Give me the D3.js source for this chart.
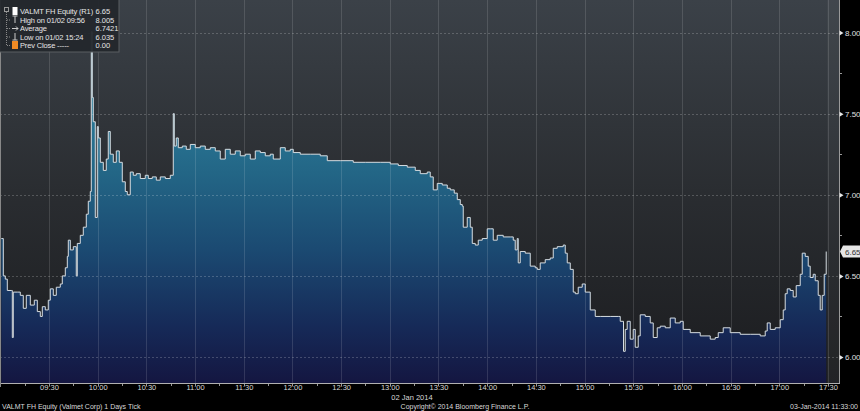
<!DOCTYPE html>
<html><head><meta charset="utf-8">
<script src="https://cdn.jsdelivr.net/npm/d3@7"></script>
<style>
html,body{margin:0;padding:0;background:#000;}
svg{display:block;}
text{font-family:"Liberation Sans",Arial,sans-serif;}
</style></head>
<body>
<svg id="chart" width="860" height="411"></svg>
<script>
// ---- data ----
const times = ["09:00:37","09:01:51","09:03:05","09:04:19","09:06:47","09:07:24","09:08:00","09:10:28","09:12:19","09:14:10",
"09:16:01","09:18:29","09:20:57","09:22:48","09:24:39","09:25:53","09:27:43","09:29:34","09:30:48","09:32:39",
"09:34:30","09:36:58","09:38:12","09:40:03","09:41:17","09:41:54","09:43:08","09:44:59","09:46:49","09:47:26",
"09:49:17","09:51:08","09:52:59","09:54:13","09:55:27","09:56:04","09:56:41","09:57:18","09:58:32","09:59:46",
"10:00:23","10:01:37","10:03:28","10:05:18","10:06:32","10:07:46","10:09:37","10:11:28","10:13:19","10:15:10",
"10:17:01","10:18:15","10:20:05","10:21:56","10:23:47","10:26:15","10:29:20","10:31:11","10:33:39","10:36:07",
"10:38:35","10:41:40","10:44:44","10:46:35","10:47:12","10:48:26","10:49:40","10:52:08","10:54:35","10:57:04",
"11:00:08","11:03:13","11:06:18","11:09:23","11:12:28","11:15:32","11:18:37","11:21:42","11:24:47","11:27:52",
"11:30:57","11:34:02","11:37:07","11:40:11","11:43:16","11:46:21","11:48:12","11:52:31","11:55:35","11:58:40",
"12:00:31","12:04:50","12:10:59","12:17:09","12:21:28","12:29:28","12:37:29","12:44:53","12:54:07","13:00:17",
"13:05:13","13:10:45","13:15:41","13:18:46","13:23:04","13:24:55","13:26:46","13:29:14","13:32:19","13:35:24",
"13:37:15","13:39:43","13:41:34","13:43:25","13:44:38","13:45:15","13:47:43","13:49:34","13:50:48","13:52:39",
"13:54:30","13:56:58","14:00:02","14:01:53","14:03:44","14:06:12","14:09:54","14:14:13","14:16:04","14:17:17",
"14:18:31","14:19:08","14:20:22","14:23:27","14:26:32","14:29:37","14:30:51","14:32:41","14:35:46","14:38:51",
"14:40:42","14:43:10","14:46:52","14:48:06","14:49:20","14:51:11","14:53:02","14:54:16","14:56:06","14:58:34",
"15:00:25","15:03:30","15:06:35","15:09:40","15:15:49","15:20:45","15:21:59","15:24:00","15:25:04","15:26:17",
"15:28:08","15:29:59","15:31:13","15:33:04","15:34:18","15:37:23","15:40:28","15:42:19","15:44:47","15:46:38",
"15:49:43","15:52:47","15:55:52","15:58:57","16:00:48","16:05:07","16:11:16","16:17:26","16:20:31","16:22:22",
"16:25:26","16:29:45","16:35:55","16:42:05","16:48:14","16:51:19","16:52:33","16:54:24","16:57:29","17:00:34",
"17:02:25","17:03:38","17:04:52","17:06:43","17:08:34","17:10:25","17:12:53","17:14:07","17:15:58","17:17:49",
"17:19:02","17:20:53","17:22:07","17:23:58","17:25:12","17:26:26","17:27:40","17:28:54"];
const prices = [6.73,6.50,6.48,6.41,6.41,6.12,6.40,6.40,6.38,6.30,
6.38,6.32,6.35,6.28,6.25,6.31,6.29,6.35,6.42,6.38,
6.43,6.45,6.50,6.55,6.62,6.72,6.66,6.68,6.50,6.70,
6.75,6.80,6.88,6.96,7.02,8.005,7.60,7.45,6.86,7.42,
7.35,7.20,7.15,7.22,7.39,7.25,7.20,7.27,7.20,7.08,
7.02,7.00,7.14,7.12,7.13,7.10,7.12,7.10,7.11,7.09,
7.11,7.10,7.12,7.50,7.30,7.35,7.29,7.30,7.28,7.31,
7.29,7.30,7.28,7.29,7.27,7.22,7.28,7.25,7.27,7.24,
7.25,7.22,7.27,7.26,7.24,7.25,7.22,7.29,7.27,7.28,
7.26,7.25,7.25,7.24,7.21,7.21,7.20,7.20,7.20,7.19,
7.18,7.17,7.15,7.13,7.14,7.11,7.03,7.07,7.06,7.04,
7.03,7.01,6.97,6.94,6.93,6.80,6.86,6.80,6.70,6.69,
6.72,6.73,6.79,6.79,6.72,6.75,6.74,6.74,6.72,6.66,
6.73,6.58,6.65,6.64,6.56,6.55,6.54,6.58,6.60,6.61,
6.67,6.68,6.69,6.64,6.58,6.54,6.40,6.39,6.43,6.45,
6.40,6.29,6.25,6.25,6.25,6.25,6.22,6.035,6.17,6.22,
6.11,6.17,6.06,6.13,6.26,6.25,6.21,6.12,6.18,6.19,
6.18,6.24,6.21,6.22,6.17,6.15,6.13,6.11,6.12,6.15,
6.18,6.15,6.14,6.14,6.13,6.16,6.21,6.17,6.18,6.23,
6.29,6.39,6.42,6.41,6.37,6.44,6.51,6.64,6.62,6.56,
6.49,6.51,6.47,6.38,6.29,6.38,6.51,6.65];
const xTickLabels = ["09:30","10:00","10:30","11:00","11:30","12:00","12:30","13:00","13:30","14:00","14:30","15:00","15:30","16:00","16:30","17:00","17:30"];
const yTickValues = [6.00,6.50,7.00,7.50,8.00];
const yMinorValues = [6.25,6.75,7.25,7.75];
const legendLabels = ["VALMT FH Equity (R1)","High on 01/02 09:56","Average","Low on 01/02 15:24","Prev Close -----"];
const legendValues = ["6.65","8.005","6.7421","6.035","0.00"];
const lastPrice = 6.65;

// ---- drawing ----
const svg = d3.select("#chart");
const W = 860, H = 411;
const plot = {left:0, right:839, top:0, bottom:383};
const day = "2014-01-02T";
const parse = s => new Date(day + s);
const data = times.map((t,i)=>({t:parse(t), v:prices[i]}));

const x = d3.scaleTime().domain([parse("09:00:00"), parse("17:30:00")]).range([0.3, 828]);
const y = d3.scaleLinear().domain([6,8]).range([357, 32.5]);

const defs = svg.append("defs");
const bg = defs.append("linearGradient").attr("id","bg").attr("x1",0).attr("y1",0).attr("x2",0).attr("y2",1);
bg.append("stop").attr("offset",0).attr("stop-color","#3b4148");
bg.append("stop").attr("offset",0.5).attr("stop-color","#2a2d31");
bg.append("stop").attr("offset",1).attr("stop-color","#1b1c1f");
const ag = defs.append("linearGradient").attr("id","ag").attr("gradientUnits","userSpaceOnUse")
  .attr("x1",0).attr("y1",0).attr("x2",0).attr("y2",plot.bottom);
[[0,"#3f9ab5"],[0.3,"#2a7896"],[0.45,"#236686"],[0.65,"#1b4a72"],[0.85,"#162a58"],[1,"#141641"]]
  .forEach(([o,c])=>ag.append("stop").attr("offset",o).attr("stop-color",c));

svg.append("rect").attr("width",W).attr("height",H).attr("fill","#000");
svg.append("rect").attr("x",plot.left).attr("y",plot.top).attr("width",plot.right-plot.left)
  .attr("height",plot.bottom-plot.top).attr("fill","url(#bg)");
// after-hours band
svg.append("rect").attr("x",x(parse("17:30:00"))-1).attr("y",0).attr("width",plot.right-x(parse("17:30:00"))+1)
  .attr("height",plot.bottom).attr("fill","#ffffff").attr("opacity",0.03);

// area + line (step)
const area = d3.area().curve(d3.curveStepAfter).x(d=>x(d.t)).y0(plot.bottom).y1(d=>y(d.v));
svg.append("path").datum(data).attr("d",area).attr("fill","url(#ag)");

// grid
const grid = svg.append("g");
xTickLabels.forEach(s=>{
  const xx = Math.round(x(parse(s+":00")))+0.5;
  grid.append("line").attr("x1",xx).attr("x2",xx).attr("y1",0).attr("y2",plot.bottom)
    .attr("stroke","#ffffff").attr("stroke-opacity",0.13).attr("stroke-width",1);
});
yTickValues.forEach(v=>{
  const yy = Math.round(y(v))+0.5;
  grid.append("line").attr("x1",0).attr("x2",plot.right).attr("y1",yy).attr("y2",yy)
    .attr("stroke","#ffffff").attr("stroke-opacity",0.2).attr("stroke-dasharray","2,2");
});

const line = d3.line().curve(d3.curveStepAfter).x(d=>x(d.t)).y(d=>y(d.v));
svg.append("path").datum(data).attr("d",line).attr("fill","none")
  .attr("stroke","#d6dde2").attr("stroke-width",1);

// plot borders
svg.append("line").attr("x1",plot.right+0.5).attr("x2",plot.right+0.5).attr("y1",0).attr("y2",plot.bottom)
  .attr("stroke","#9a9a9a");
svg.append("line").attr("x1",0).attr("x2",plot.right+1).attr("y1",plot.bottom+0.5).attr("y2",plot.bottom+0.5)
  .attr("stroke","#b0b0b0");
svg.append("line").attr("x1",0.5).attr("x2",0.5).attr("y1",0).attr("y2",plot.bottom+4)
  .attr("stroke","#888");

// x axis (major labels via d3 axis, minor ticks at quarter hours)
const xTicks = xTickLabels.map(s=>parse(s+":00"));
const xAxis = d3.axisBottom(x).tickValues(xTicks).tickFormat(d3.timeFormat("%H:%M")).tickSize(0).tickPadding(2);
const gx = svg.append("g").attr("transform",`translate(0,${plot.bottom})`).call(xAxis);
gx.select(".domain").remove();
gx.selectAll("text").attr("fill","#d8d8d8").attr("font-size","7.5px").style("font-family","Liberation Sans, Arial");
const minorX = d3.timeMinute.every(15).range(parse("09:15:00"), parse("17:31:00"));
svg.append("g").selectAll("line").data(minorX).join("line")
  .attr("x1",d=>Math.round(x(d))+0.5).attr("x2",d=>Math.round(x(d))+0.5)
  .attr("y1",plot.bottom+1).attr("y2",plot.bottom+3).attr("stroke","#999");

// y axis on right
const yAxis = d3.axisRight(y).tickValues(yTickValues).tickFormat(d3.format(".2f")).tickSize(0).tickPadding(6);
const gy = svg.append("g").attr("transform",`translate(${plot.right},0)`).call(yAxis);
gy.select(".domain").remove();
gy.selectAll("text").attr("fill","#e0e0e0").attr("font-size","8px").style("font-family","Liberation Sans, Arial");
gy.selectAll(".tick").append("path").attr("d","M0.5,-2.5L4.5,0L0.5,2.5Z").attr("fill","#e8e8e8");
svg.append("g").selectAll("line").data(yMinorValues).join("line")
  .attr("x1",plot.right+1).attr("x2",plot.right+3)
  .attr("y1",d=>Math.round(y(d))+0.5).attr("y2",d=>Math.round(y(d))+0.5).attr("stroke","#999");

// last price tag
const ly = y(lastPrice);
svg.append("path").attr("d",`M840,${ly}L843,${ly-6}L860,${ly-6}L860,${ly+6}L843,${ly+6}Z`)
  .attr("fill","#e6e6e6");
svg.append("text").attr("x",845).attr("y",ly+3).attr("font-size","8px").attr("fill","#333")
  .text(d3.format(".2f")(lastPrice));

// legend
const lg = svg.append("g");
lg.append("rect").attr("x",-1).attr("y",-1).attr("width",120).attr("height",53)
  .attr("fill","#23272c").attr("fill-opacity",0.95).attr("stroke","#5a5e63");
const rowY = [11,19.5,28,36.5,45];
lg.append("rect").attr("x",4.5).attr("y",7.5).attr("width",4).attr("height",4).attr("fill","none").attr("stroke","#999");
lg.append("line").attr("x1",6.5).attr("x2",6.5).attr("y1",12).attr("y2",45.5).attr("stroke","#888").attr("stroke-dasharray","1,1");
rowY.slice(1).forEach(r=>lg.append("line").attr("x1",7).attr("x2",11).attr("y1",r+0.5).attr("y2",r+0.5).attr("stroke","#888").attr("stroke-dasharray","1,1"));
// icons
lg.append("rect").attr("x",12.5).attr("y",7).attr("width",5).attr("height",8).attr("fill","#ffffff");
lg.append("path").attr("d",`M12.5,${rowY[1]-3.5}H17.5M15,${rowY[1]-3.5}V${rowY[1]+3.5}`).attr("stroke","#ccc").attr("fill","none");
lg.append("path").attr("d",`M12,${rowY[2]+0.5}H18M16,${rowY[2]-1.5}L18,${rowY[2]+0.5}L16,${rowY[2]+2.5}`).attr("stroke","#ccc").attr("fill","none");
lg.append("path").attr("d",`M12.5,${rowY[3]+3.5}H17.5M15,${rowY[3]-3.5}V${rowY[3]+3.5}`).attr("stroke","#ccc").attr("fill","none");
lg.append("rect").attr("x",12).attr("y",rowY[4]-4).attr("width",6).attr("height",8).attr("fill","#f08a24");
legendLabels.forEach((s,i)=>{
  lg.append("text").attr("x",20).attr("y",rowY[i]+3).attr("font-size","7.5px").attr("letter-spacing","-0.15px")
    .attr("fill","#e6e6e6").text(s);
  lg.append("text").attr("x",95.5).attr("y",rowY[i]+3).attr("font-size","7.5px").attr("fill","#e6e6e6").text(legendValues[i]);
});

// footer texts
svg.append("text").attr("x",412).attr("y",400).attr("text-anchor","middle").attr("font-size","7.5px").attr("fill","#d8d8d8").text("02 Jan 2014");
svg.append("text").attr("x",2).attr("y",409).attr("font-size","7px").attr("fill","#d8d8d8").text("VALMT FH Equity (Valmet Corp) 1 Days  Tick");
svg.append("text").attr("x",465).attr("y",409).attr("text-anchor","middle").attr("font-size","7px").attr("fill","#d8d8d8").text("Copyright© 2014 Bloomberg Finance L.P.");
svg.append("text").attr("x",858).attr("y",409).attr("text-anchor","end").attr("font-size","7px").attr("fill","#d8d8d8").text("03-Jan-2014 11:33:00");
</script>
</body></html>
